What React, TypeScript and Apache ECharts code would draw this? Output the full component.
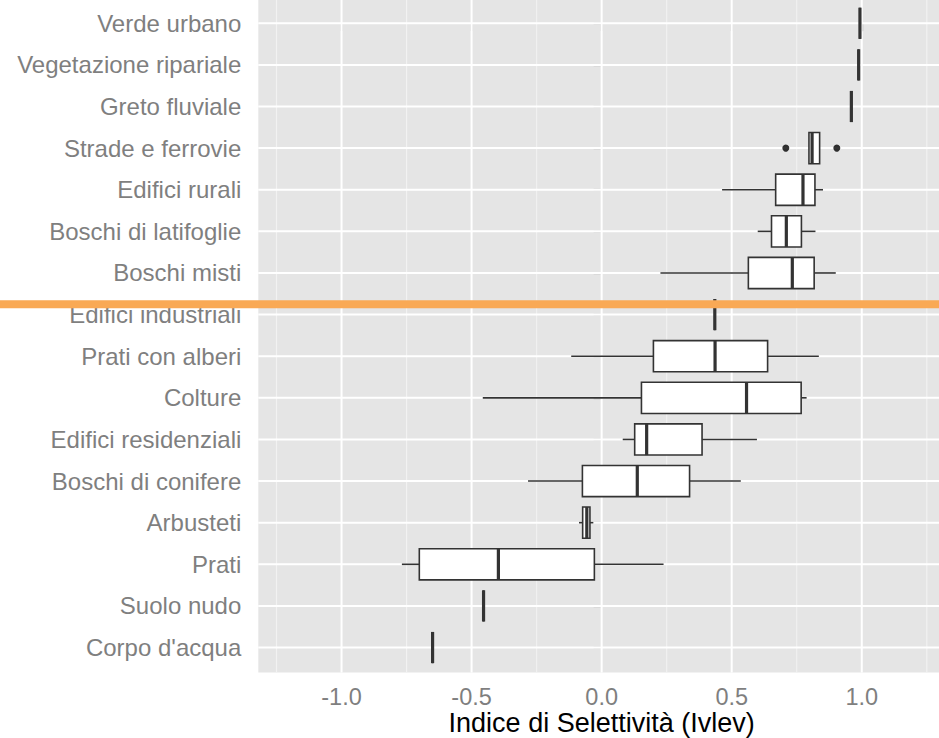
import React, { useEffect, useRef } from "react";
import * as echarts from "echarts";

// ---- data ----
const categories = [
  "Verde urbano",
  "Vegetazione ripariale",
  "Greto fluviale",
  "Strade e ferrovie",
  "Edifici rurali",
  "Boschi di latifoglie",
  "Boschi misti",
  "Edifici industriali",
  "Prati con alberi",
  "Colture",
  "Edifici residenziali",
  "Boschi di conifere",
  "Arbusteti",
  "Prati",
  "Suolo nudo",
  "Corpo d'acqua",
];
const whiskerLow = [0.993, 0.988, 0.96, 0.797, 0.463, 0.6, 0.226, 0.435, -0.117, -0.457, 0.081, -0.283, -0.087, -0.768, -0.454, -0.65];
const quartile1 = [0.993, 0.988, 0.96, 0.797, 0.669, 0.653, 0.564, 0.435, 0.199, 0.153, 0.127, -0.074, -0.073, -0.701, -0.454, -0.65];
const medians = [0.993, 0.988, 0.96, 0.809, 0.774, 0.71, 0.733, 0.435, 0.436, 0.557, 0.173, 0.137, -0.057, -0.397, -0.454, -0.65];
const quartile3 = [0.993, 0.988, 0.96, 0.838, 0.82, 0.768, 0.817, 0.435, 0.638, 0.767, 0.386, 0.338, -0.045, -0.028, -0.454, -0.65];
const whiskerHigh = [0.993, 0.988, 0.96, 0.838, 0.851, 0.822, 0.9, 0.435, 0.835, 0.788, 0.597, 0.535, -0.032, 0.238, -0.454, -0.65];
const outlierValues = [0.708, 0.904];
const outlierCategory = [3, 3];

const xMajorBreaks = [-1, -0.5, 0, 0.5, 1];
const xMinorBreaks = [-1.25, -0.75, -0.25, 0.25, 0.75, 1.25];
const categoryIndex = categories.map((_, i) => i);
const separatorAt = 6.75; // orange separator between "Boschi misti" and "Edifici industriali"

const GREY_TEXT = "#7F7F7F";
const FONT = "Liberation Sans, Arial, sans-serif";

function verticalGridSeries(values: number[], color: string, width: number) {
  return {
    type: "custom",
    silent: true,
    z: 1,
    data: values.map((v) => [v, 0]),
    encode: { x: 0, y: 1 },
    renderItem: (params: any, api: any) => {
      const cs = params.coordSys;
      const p = api.coord([api.value(0), 0]);
      return {
        type: "line",
        shape: { x1: p[0], y1: cs.y, x2: p[0], y2: cs.y + cs.height },
        style: { stroke: color, lineWidth: width },
      };
    },
  };
}

export default function App() {
  const ref = useRef<HTMLDivElement>(null);

  useEffect(() => {
    if (!ref.current) return;
    const chart = echarts.init(ref.current, undefined, { renderer: "svg" });

    const boxData = categories.map((_, i) => [
      i,
      whiskerLow[i],
      quartile1[i],
      medians[i],
      quartile3[i],
      whiskerHigh[i],
    ]);

    const option: any = {
      animation: false,
      backgroundColor: "#FFFFFF",
      grid: {
        left: 258.3,
        right: -6,
        top: -1.7,
        bottom: 65.5,
        show: true,
        backgroundColor: "#E5E5E5",
        borderWidth: 0,
        containLabel: false,
        outerBoundsMode: "none",
      },
      xAxis: {
        type: "value",
        min: -1.32,
        max: 1.32,
        splitLine: { show: false },
        axisLine: { show: false },
        axisTick: {
          show: true,
          length: 8,
          customValues: xMajorBreaks,
          lineStyle: { color: GREY_TEXT, width: 1.2 },
        },
        axisLabel: {
          customValues: xMajorBreaks,
          formatter: (v: number) => v.toFixed(1),
          color: GREY_TEXT,
          fontSize: 23.5,
          lineHeight: 20,
          fontFamily: FONT,
          margin: 14.2,
        },
        name: "Indice di Selettività (Ivlev)",
        nameLocation: "middle",
        nameGap: 37,
        nameMoveOverlap: false,
        nameTextStyle: { color: "#000000", fontSize: 27, lineHeight: 27, fontFamily: FONT },
      },
      yAxis: {
        type: "value",
        inverse: true,
        min: -0.6,
        max: 15.6,
        splitLine: { show: false },
        axisLine: { show: false },
        axisTick: {
          show: true,
          length: 8,
          customValues: categoryIndex,
          lineStyle: { color: GREY_TEXT, width: 1.2 },
        },
        axisLabel: {
          customValues: categoryIndex,
          formatter: (v: number) => categories[Math.round(v)] ?? "",
          color: GREY_TEXT,
          fontSize: 24,
          fontFamily: FONT,
          margin: 17,
        },
      },
      series: [
        verticalGridSeries(xMinorBreaks, "#F2F2F2", 1.1),
        verticalGridSeries(xMajorBreaks, "#FFFFFF", 2),
        {
          type: "custom",
          silent: true,
          z: 1,
          data: categoryIndex.map((i) => [0, i]),
          encode: { x: 0, y: 1 },
          renderItem: (params: any, api: any) => {
            const cs = params.coordSys;
            const p = api.coord([0, api.value(1)]);
            return {
              type: "line",
              shape: { x1: cs.x, y1: p[1], x2: cs.x + cs.width, y2: p[1] },
              style: { stroke: "#FFFFFF", lineWidth: 2 },
            };
          },
        },
        {
          type: "custom",
          z: 3,
          data: boxData,
          encode: { x: [1, 2, 3, 4, 5], y: 0 },
          renderItem: (params: any, api: any) => {
            const c = api.value(0);
            const lo = api.coord([api.value(1), c]);
            const b1 = api.coord([api.value(2), c]);
            const md = api.coord([api.value(3), c]);
            const b3 = api.coord([api.value(4), c]);
            const hi = api.coord([api.value(5), c]);
            const h = Math.abs(api.size([0, 0.75])[1]);
            const cy = lo[1];
            const top = cy - h / 2;
            const stroke = "#333333";
            return {
              type: "group",
              children: [
                { type: "line", shape: { x1: lo[0], y1: cy, x2: b1[0], y2: cy }, style: { stroke, lineWidth: 1.6 } },
                { type: "line", shape: { x1: b3[0], y1: cy, x2: hi[0], y2: cy }, style: { stroke, lineWidth: 1.6 } },
                {
                  type: "rect",
                  shape: { x: b1[0], y: top, width: b3[0] - b1[0], height: h },
                  style: { fill: "#FFFFFF", stroke, lineWidth: 1.6 },
                },
                { type: "line", shape: { x1: md[0], y1: top, x2: md[0], y2: top + h }, style: { stroke, lineWidth: 3.2 } },
              ],
            };
          },
        },
        {
          type: "scatter",
          z: 4,
          symbol: "circle",
          symbolSize: 7,
          itemStyle: { color: "#000000" },
          data: outlierValues.map((v, i) => [v, outlierCategory[i]]),
        },
      ],
    };

    chart.setOption(option);

    const sepY = chart.convertToPixel({ yAxisIndex: 0 }, separatorAt) as number;
    const w = chart.getWidth();
    chart.setOption({
      graphic: [
        {
          type: "line",
          z: 100,
          silent: true,
          shape: { x1: 0, y1: sepY, x2: w, y2: sepY },
          style: { stroke: "#F9A955", lineWidth: 8 },
        },
      ],
    });

    return () => {
      chart.dispose();
    };
  }, []);

  return (
    <div
      ref={ref}
      style={{ position: "absolute", left: 0, top: 0, width: 939, height: 738 }}
    />
  );
}
